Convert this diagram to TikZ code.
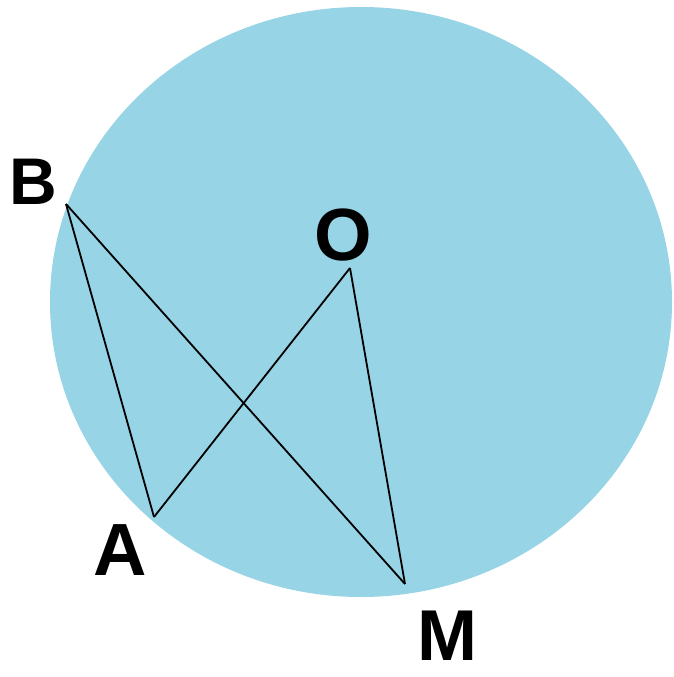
\documentclass[tikz,border=0pt]{standalone}
\usepackage{fontspec}
\setmainfont{Liberation Sans}
\definecolor{disc}{RGB}{150,212,230}
\begin{document}
\begin{tikzpicture}[x=1pt,y=-1pt,
  seg/.style={line width=1.8pt,black},
  lbl/.style={inner sep=0pt,font=\bfseries\fontsize{74}{78}\selectfont}]
\useasboundingbox (0,0) rectangle (673,677);
\fill[disc] (361,302) ellipse [x radius=311, y radius=295];
\coordinate (B) at (66,204);
\coordinate (A) at (154,517);
\coordinate (O) at (350,268);
\coordinate (M) at (405,584);
\draw[seg] (B) -- (A);
\draw[seg] (B) -- (M);
\draw[seg] (A) -- (O);
\draw[seg] (O) -- (M);
\node[lbl,font=\bfseries\fontsize{66}{70}\selectfont] (lB) at (33,182) {B};
\node[lbl] (lO) at (343,235) {O};
\node[lbl] (lA) at (120,550) {A};
\node[lbl,font=\bfseries\fontsize{72}{76}\selectfont] (lM) at (447,636) {M};
\end{tikzpicture}
\end{document}
